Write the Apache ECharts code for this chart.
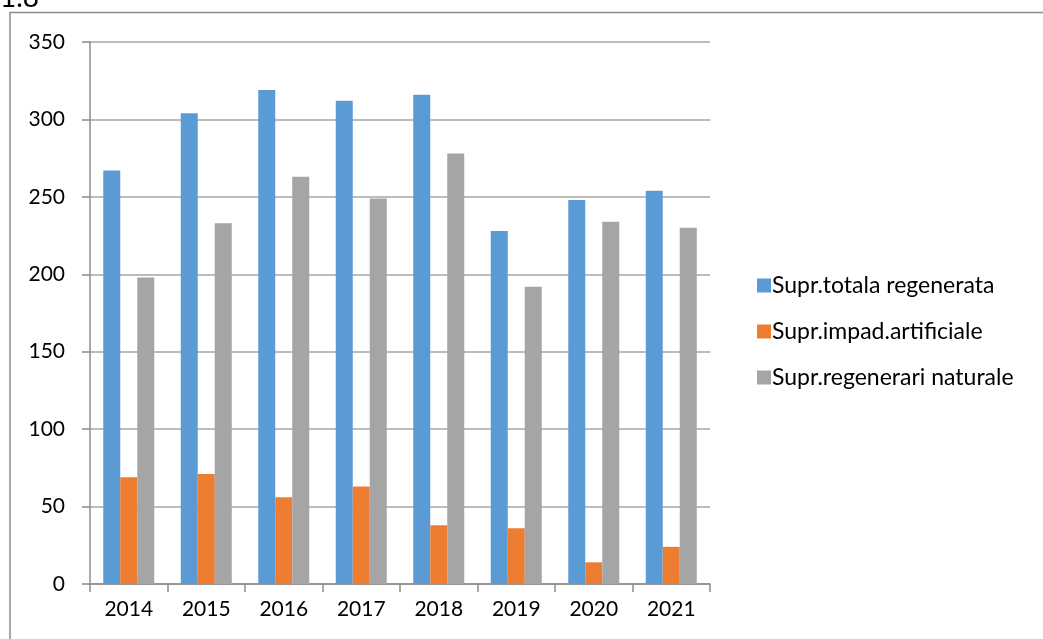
<!DOCTYPE html>
<html>
<head>
<meta charset="utf-8">
<script src="https://cdn.jsdelivr.net/npm/echarts@6/dist/echarts.min.js"></script>
<style>
  html, body { margin: 0; padding: 0; background: #fff; }
  #chart { width: 1043px; height: 639px; }
</style>
</head>
<body>
<div id="chart"></div>
<script>
// data
var years = ['2014', '2015', '2016', '2017', '2018', '2019', '2020', '2021'];
var totalRegen = [267, 304, 319, 312, 316, 228, 248, 254];
var artificial = [69, 71, 56, 63, 38, 36, 14, 24];
var natural = [198, 233, 263, 249, 278, 192, 234, 230];
var seriesNames = ['Supr.totala regenerata', 'Supr.impad.artificiale', 'Supr.regenerari naturale'];

var font = 'Lato, Open Sans, sans-serif';

chart = echarts.init(document.getElementById('chart'));

option = {
    animation: false,
    color: ['#5B9BD5', '#ED7D31', '#A5A5A5'],
    graphic: [
        {
            type: 'polyline',
            shape: { points: [[10, 645], [10, 12.5], [1050, 12.5]] },
            style: { stroke: '#8c8c8c', lineWidth: 1.5, fill: null }
        },
        {
            type: 'text',
            left: 0,
            top: -16,
            style: { text: '1.8', font: '28px ' + font, fill: '#000' }
        }
    ],
    grid: {
        left: 90,
        right: 333,
        top: 42,
        bottom: 55
    },
    legend: {
        orient: 'vertical',
        left: 752,
        top: 269,
        itemWidth: 14,
        itemHeight: 14,
        itemGap: 23,
        icon: 'rect',
        data: seriesNames,
        textStyle: { fontSize: 23, color: '#000', fontFamily: font, padding: [0, 0, 0, -4] }
    },
    xAxis: {
        type: 'category',
        data: years,
        axisLine: { lineStyle: { color: '#8c8c8c', width: 1.5 } },
        axisTick: { show: true, length: 8, lineStyle: { color: '#8c8c8c', width: 1.5 } },
        axisLabel: { fontSize: 21, color: '#000', fontFamily: font, margin: 15 }
    },
    yAxis: {
        type: 'value',
        min: 0,
        max: 350,
        interval: 50,
        axisLine: { show: true, lineStyle: { color: '#8c8c8c', width: 1.5 } },
        axisTick: { show: true, length: 8, lineStyle: { color: '#8c8c8c', width: 1.5 } },
        splitLine: { lineStyle: { color: '#a6a6a6', width: 1.5 } },
        axisLabel: { fontSize: 21, color: '#000', fontFamily: font, margin: 25 }
    },
    series: [
        {
            name: seriesNames[0],
            type: 'bar',
            data: totalRegen,
            barWidth: 17,
            barGap: '0%'
        },
        {
            name: seriesNames[1],
            type: 'bar',
            data: artificial,
            barWidth: 17,
            barGap: '0%'
        },
        {
            name: seriesNames[2],
            type: 'bar',
            data: natural,
            barWidth: 17,
            barGap: '0%'
        }
    ]
};

chart.setOption(option);
</script>
</body>
</html>
